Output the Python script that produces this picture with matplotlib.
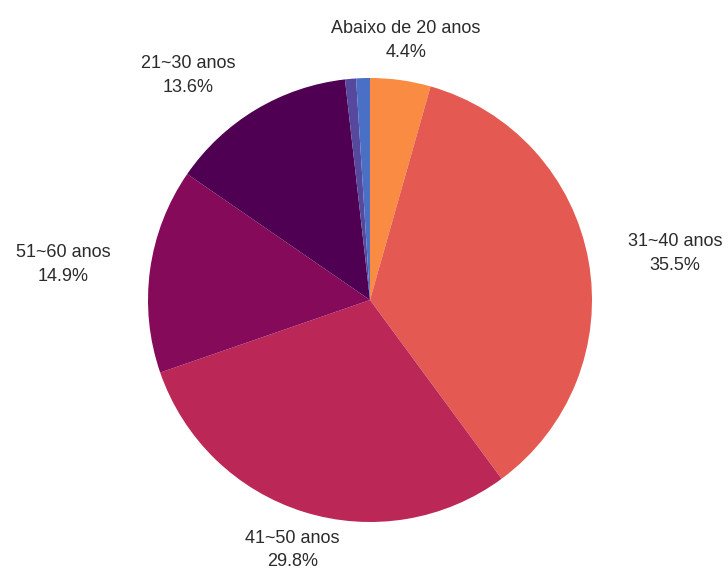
import numpy as np
import matplotlib
matplotlib.use("Agg")
import matplotlib.pyplot as plt

labels = ["Abaixo de 20 anos", "31~40 anos", "41~50 anos", "51~60 anos", "21~30 anos", "", ""]
values = [4.4, 35.5, 29.8, 14.9, 13.6, 0.8, 1.0]
colors = ["#fa8b42", "#e45951", "#bb2757", "#860a5a", "#4f0052", "#56489c", "#4a70c6"]

plt.rcParams["font.family"] = ["Liberation Sans", "DejaVu Sans"]

fig = plt.figure(figsize=(7.28, 5.69), dpi=100)
ax = fig.add_axes([0, 0, 1, 1])
R = 222
wedges, _ = ax.pie(values, colors=colors, startangle=90, counterclock=False,
                   radius=R, center=(0, 0), wedgeprops=dict(linewidth=0))
ax.set_xlim(-370, 358)
ax.set_ylim(-269, 300)
ax.set_aspect("equal")
ax.axis("off")

ld = 1.18
for w, lab, v in zip(wedges, labels, values):
    if not lab:
        continue
    ang = np.deg2rad((w.theta1 + w.theta2) / 2)
    x = ld * R * np.cos(ang)
    y = ld * R * np.sin(ang)
    c = np.cos(ang)
    if c > 0.5:
        ha = "left"
    elif c < -0.5:
        ha = "right"
    else:
        ha = "center"
    ax.text(x, y, f"{lab}\n{v:.1f}%", ha=ha, va="center", multialignment="center",
            fontsize=13, color="#2b2b2b", linespacing=1.5)

fig.savefig("out.png", dpi=100)
